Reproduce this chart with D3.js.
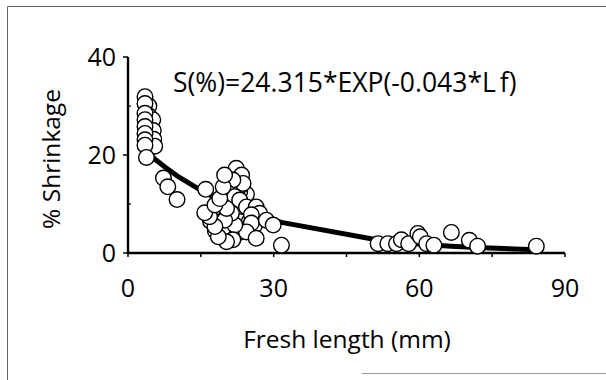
<!DOCTYPE html>
<html><head><meta charset="utf-8">
<script src="https://cdn.jsdelivr.net/npm/d3@7"></script>
<style>body{margin:0;background:#fff}svg{display:block}</style>
</head><body>
<svg id="c" width="606" height="380"></svg>
<script>
// Observed data: fresh length (mm) and % shrinkage
const lengthMm = [
  4.3,4.3,4.3,4.3,4.3,4.5,5.1,5.2,5.3,5.5,
  3.5,3.5,3.5,3.5,3.5,3.5,3.5,3.5,3.8,
  7.3,8.2,10.1,
  24.4,23,22.5,21.5,21,22,21,22,23,24,20,19,18.5,17,18,19.5,22.5,23.5,25,26,21.8,22.8,23.2,20.8,
  22.3,23.4,23.7,21.6,20.6,22,23,24.4,26.4,27.1,25.4,25.4,24.4,26.4,28.5,29.9,22,21.6,20.3,21.3,19.9,20.3,18.6,17.9,16.8,15.8,17.9,18.9,19.6,19.9,16,31.6,
  51.5,53.5,55.3,56.3,57.8,59.7,60.2,61.5,63,66.6,70.3,72,84.1
];
const shrinkPct = [
  30,28,26.2,24.5,22.8,21.5,27.2,25,23.2,21.8,
  31.9,30.5,28.5,27.2,25.8,24.4,23.1,22,19.5,
  15.3,13.5,10.9,
  12,12.5,13,12,13,14.5,10,9,8,7.5,11,7.8,9.5,6.5,4.5,4.5,4,9.5,6.5,5.5,11.2,10.2,13.8,7,
  17.3,15.9,14.2,14.9,12.2,11.5,10.8,9.4,9.4,8.1,7.8,6.1,4.3,3.0,6.7,5.7,5.7,2.7,2.3,8.1,6.7,9.1,3.3,5.4,7.4,8.2,9.8,11.1,13.5,15.9,13.0,1.6,
  1.9,1.9,1.9,2.7,1.9,4.0,3.3,1.9,1.6,4.2,2.6,1.4,1.4
];
// Fitted curve S(%)=24.315*EXP(-0.043*Lf), values read at data lengths
const fitX = [3.6,5.5,7.6,10.1,15.8,20,25,31.6,51.2,56,60,66.5,71.9,84];
const fitY = [20.83,19.19,17.54,15.75,12.33,10.29,8.30,6.25,2.69,2.19,1.84,1.39,1.10,0.66];
const xTicks = [0,30,60,90];
const xMinor = [15,45,75];
const yTicks = [0,20,40];
const yMinor = [10,30];
const equation = "S(%)=24.315*EXP(-0.043*L";
const xTitle = "Fresh length (mm)";
const yTitle = "% Shrinkage";

const svg = d3.select("#c");
const x = d3.scaleLinear().domain([0,90]).range([128,565]);
const y = d3.scaleLinear().domain([0,40]).range([253,57]);
const font = "'Open Sans', sans-serif";
const fw = 500;

// frame
svg.append("path").attr("d","M7.5,380 V6.5 H606").attr("fill","none").attr("stroke","#666").attr("stroke-width",1);
svg.append("line").attr("x1",362).attr("x2",606).attr("y1",373.5).attr("y2",373.5).attr("stroke","#999").attr("stroke-width",1);

// axes
svg.append("line").attr("x1",x(0)).attr("x2",x(0)).attr("y1",y(40)).attr("y2",y(0)+1).attr("stroke","#000").attr("stroke-width",2.4);
svg.append("line").attr("x1",x(0)-1).attr("x2",x(90)).attr("y1",y(0)).attr("y2",y(0)).attr("stroke","#000").attr("stroke-width",2.4);
svg.selectAll(".yt").data(yTicks).join("line").attr("x1",x(0)-5).attr("x2",x(0)).attr("y1",d=>y(d)).attr("y2",d=>y(d)).attr("stroke","#000").attr("stroke-width",1.5);
svg.selectAll(".ym").data(yMinor).join("line").attr("x1",x(0)).attr("x2",x(0)+3).attr("y1",d=>y(d)).attr("y2",d=>y(d)).attr("stroke","#000").attr("stroke-width",1.2);
svg.selectAll(".xt").data(xTicks.concat(xMinor)).join("line").attr("x1",d=>x(d)).attr("x2",d=>x(d)).attr("y1",y(0)).attr("y2",y(0)+4).attr("stroke","#000").attr("stroke-width",1.5);

// tick labels
svg.selectAll(".ytl").data(yTicks).join("text").attr("x",116).attr("y",d=>y(d)+9)
  .attr("text-anchor","end").attr("font-family",font).attr("font-weight",fw).attr("font-size",25).text(d=>d);
svg.selectAll(".xtl").data(xTicks).join("text").attr("x",d=>x(d)).attr("y",297)
  .attr("text-anchor","middle").attr("font-family",font).attr("font-weight",fw).attr("font-size",25).text(d=>d);

// titles
svg.append("text").attr("x",347).attr("y",348).attr("text-anchor","middle").attr("font-family",font).attr("font-weight",fw).attr("font-size",24.5).text(xTitle);
svg.append("text").attr("transform","translate(60,159) rotate(-90)").attr("text-anchor","middle").attr("font-family",font).attr("font-weight",fw).attr("font-size",24.5).text(yTitle);
const eq = svg.append("text").attr("x",173).attr("y",92).attr("font-family",font).attr("font-weight",fw).attr("font-size",26.5);
eq.append("tspan").text(equation);
eq.append("tspan").attr("dx",4).text("f)");

// fit line
const line = d3.line().x((d,i)=>x(fitX[i])).y((d,i)=>y(fitY[i]));
svg.append("path").datum(fitX).attr("d",line).attr("fill","none").attr("stroke","#000").attr("stroke-width",5).attr("stroke-linejoin","round");

// points
svg.selectAll(".pt").data(lengthMm).join("circle")
  .attr("cx",d=>x(d)).attr("cy",(d,i)=>y(shrinkPct[i])).attr("r",7.8)
  .attr("fill","#fff").attr("stroke","#000").attr("stroke-width",1.4);
</script>
</body></html>
